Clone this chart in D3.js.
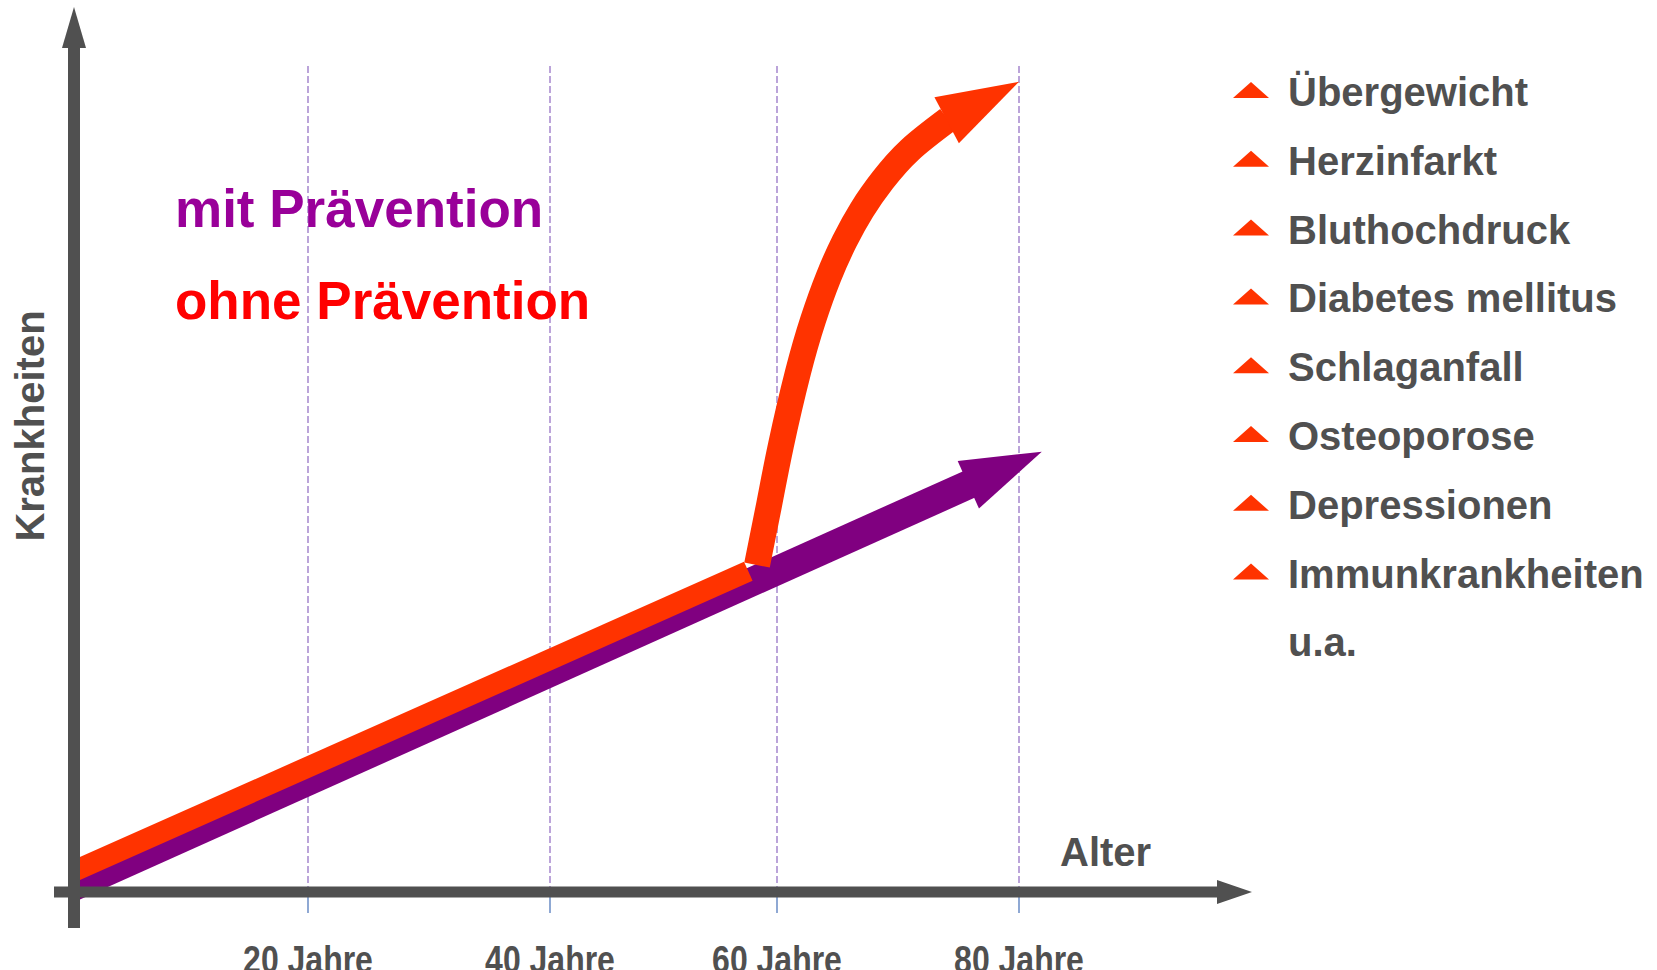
<!DOCTYPE html>
<html>
<head>
<meta charset="utf-8">
<script src="https://cdn.jsdelivr.net/npm/d3@7"></script>
<style>
  html, body { margin: 0; padding: 0; background: #ffffff; overflow: hidden; }
  svg text { font-family: "Liberation Sans", Arial, Helvetica, sans-serif; font-weight: bold; }
</style>
</head>
<body>
<svg id="chart" width="1657" height="970"></svg>
<script>
// Age marks on the horizontal axis (years)
const ageTicks = [20, 40, 60, 80];
const ageTickLabels = ["20 Jahre", "40 Jahre", "60 Jahre", "80 Jahre"];

// Disease burden index (0..100) over age, [age, index]
// with prevention: a steady, moderate rise (last point = arrow tip)
const withPrevention = [[0, 0.69], [81.88, 53.3]];
// without prevention: the same rise until the late fifties ...
const withoutPreventionEarly = [[0, 2.52], [57.47, 38.83]];
// ... followed by a steep climb (second-to-last point = base of the arrow head)
const withoutPreventionLate = [
  [58.24, 39.59], [59.30, 46.85], [60.33, 54.12], [61.74, 62.95], [62.98, 69.25],
  [64.26, 74.46], [65.58, 78.78], [67.02, 82.59], [68.73, 86.16], [70.99, 89.85],
  [74.13, 93.52], [80, 98.1]
];

// Conditions that become more frequent
const diseases = ["Übergewicht", "Herzinfarkt", "Bluthochdruck", "Diabetes mellitus",
  "Schlaganfall", "Osteoporose", "Depressionen", "Immunkrankheiten"];
const diseasesNote = "u.a.";

const seriesLabels = ["mit Prävention", "ohne Prävention"];

const AXIS = "#505050";
const PURPLE = "#800080";
const ORANGE = "#FF3300";

const svg = d3.select("#chart");

const x = d3.scaleLinear().domain([0, 20, 40, 60, 80]).range([74, 308, 550, 777, 1019]);
const y = d3.scaleLinear().domain([0, 100]).range([892, 66]);

// dashed vertical guides and small ticks under the axis
const grid = svg.append("g");
grid.selectAll("line.guide").data(ageTicks).join("line")
  .attr("class", "guide")
  .attr("x1", d => x(d)).attr("x2", d => x(d))
  .attr("y1", y(100)).attr("y2", y(0))
  .attr("stroke", "#B49BD6").attr("stroke-width", 1.8)
  .attr("stroke-dasharray", "7,3");
grid.selectAll("line.tick").data(ageTicks).join("line")
  .attr("class", "tick")
  .attr("x1", d => x(d)).attr("x2", d => x(d))
  .attr("y1", y(0)).attr("y2", y(0) + 21)
  .attr("stroke", "#7393C9").attr("stroke-width", 1.6);

// thick arrow: stroked shaft plus triangular head ending at the last point.
// With headLen the head base is measured back from the tip,
// otherwise the second-to-last point is the head base.
function arrow(g, pts, width, headLen, headHalf, color, curve) {
  const px = pts.map(d => [x(d[0]), y(d[1])]);
  const tip = px[px.length - 1], prev = px[px.length - 2];
  const dx = tip[0] - prev[0], dy = tip[1] - prev[1];
  const len = Math.hypot(dx, dy);
  const ux = dx / len, uy = dy / len, nx = -uy, ny = ux;
  let base, shaft;
  if (headLen) {
    base = [tip[0] - headLen * ux, tip[1] - headLen * uy];
    shaft = px.slice(0, -1).concat([base]);
  } else {
    base = prev;
    shaft = px.slice(0, -1);
  }
  g.append("path")
    .attr("d", d3.line().curve(curve)(shaft))
    .attr("fill", "none").attr("stroke", color)
    .attr("stroke-width", width).attr("stroke-linecap", "butt");
  // head base sits slightly inside the shaft end so no seam shows
  const hb = [base[0] - 1.5 * ux, base[1] - 1.5 * uy];
  g.append("path")
    .attr("d", d3.line()([tip,
      [hb[0] + headHalf * nx, hb[1] + headHalf * ny],
      [hb[0] - headHalf * nx, hb[1] - headHalf * ny]]) + "Z")
    .attr("fill", color);
}

const marks = svg.append("g");
arrow(marks, withPrevention, 29, 79, 26, PURPLE, d3.curveLinear);
marks.append("path")
  .attr("d", d3.line().x(d => x(d[0])).y(d => y(d[1]))(withoutPreventionEarly))
  .attr("fill", "none").attr("stroke", ORANGE).attr("stroke-width", 21);
arrow(marks, withoutPreventionLate, 26, null, 26, ORANGE, d3.curveNatural);

// axes drawn on top
const axes = svg.append("g").attr("fill", AXIS);
const x0 = x(0), y0 = y(0);
// vertical axis
axes.append("rect").attr("x", x0 - 6).attr("y", 47).attr("width", 12).attr("height", 928 - 47);
axes.append("path").attr("d", d3.line()([[x0, 7], [x0 + 12, 48], [x0 - 12, 48]]) + "Z");
// horizontal axis
axes.append("rect").attr("x", 54).attr("y", y0 - 5.5).attr("width", 1218 - 54).attr("height", 11);
axes.append("path").attr("d", d3.line()([[1252, y0], [1217, y0 - 12], [1217, y0 + 12]]) + "Z");

// age labels (condensed)
svg.append("g").selectAll("text").data(ageTicks).join("text")
  .attr("transform", d => `translate(${x(d)},973) scale(0.82,1)`)
  .attr("text-anchor", "middle")
  .attr("font-size", 39).attr("fill", AXIS)
  .text((d, i) => ageTickLabels[i]);

svg.append("text").attr("x", 1060).attr("y", 866)
  .attr("font-size", 40).attr("fill", AXIS).text("Alter");

svg.append("text")
  .attr("transform", "translate(43.5,426) rotate(-90)")
  .attr("text-anchor", "middle")
  .attr("font-size", 40).attr("fill", AXIS).text("Krankheiten");

// series captions
svg.append("text").attr("x", 175).attr("y", 227)
  .attr("font-size", 53).attr("fill", "#990099").text(seriesLabels[0]);
svg.append("text").attr("x", 175).attr("y", 319)
  .attr("font-size", 53).attr("fill", "#FF0000").text(seriesLabels[1]);

// list of conditions with up-markers
const list = svg.append("g");
const rowY = i => 106 + i * 68.8;
list.selectAll("path").data(diseases).join("path")
  .attr("d", (d, i) => d3.line()([[1251, rowY(i) - 24], [1269, rowY(i) - 8], [1233, rowY(i) - 8]]) + "Z")
  .attr("fill", ORANGE);
list.selectAll("text").data(diseases.concat([diseasesNote])).join("text")
  .attr("x", 1288).attr("y", (d, i) => rowY(i))
  .attr("font-size", 40).attr("fill", AXIS)
  .text(d => d);
</script>
</body>
</html>
